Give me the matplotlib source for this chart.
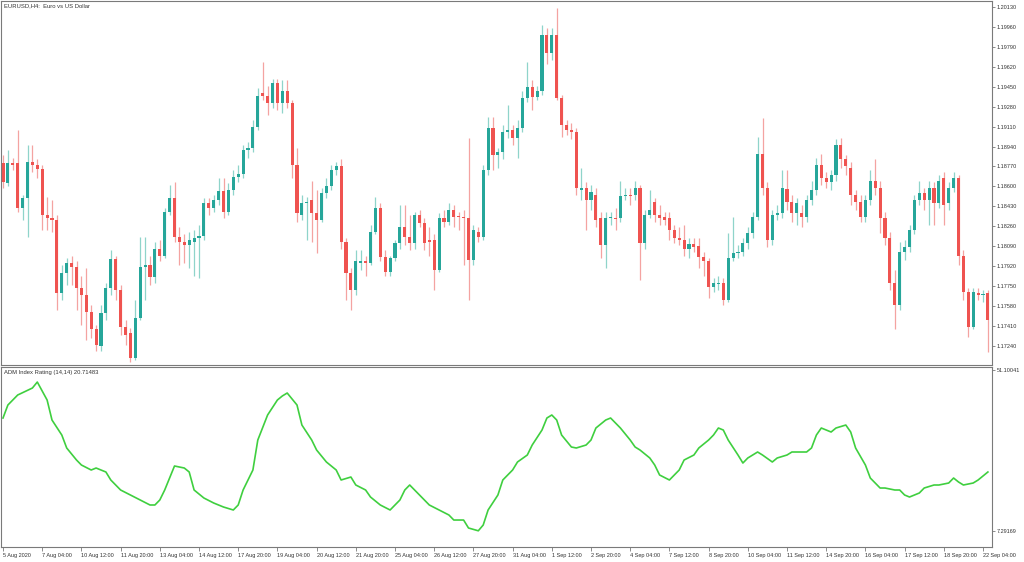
import matplotlib
matplotlib.use("Agg")
import matplotlib.pyplot as plt

# ---------------- data ----------------
opens = [
    1.1880, 1.1863, 1.1880, 1.1880, 1.1842, 1.1850, 1.1881, 1.1878, 1.1875, 1.1836,
    1.1833, 1.1831, 1.1769, 1.1786, 1.1795, 1.1791, 1.1773, 1.1767, 1.1753, 1.1738,
    1.1724, 1.1752, 1.1773, 1.1798, 1.1772, 1.1740, 1.1735, 1.1714, 1.1748, 1.1791,
    1.1793, 1.1783, 1.1807, 1.1801, 1.1838, 1.1850, 1.1817, 1.1813, 1.1810, 1.1813,
    1.1816, 1.1818, 1.1846, 1.1842, 1.1848, 1.1856, 1.1838, 1.1857, 1.1868, 1.1871,
    1.1891, 1.1893, 1.1911, 1.1940, 1.1937, 1.1931, 1.1948, 1.1931, 1.1941, 1.1931,
    1.1878, 1.1836, 1.1846, 1.1848, 1.1837, 1.1831, 1.1854, 1.1860, 1.1874, 1.1877,
    1.1813, 1.1786, 1.1772, 1.1795, 1.1796, 1.1795, 1.1821, 1.1842, 1.1800, 1.1787,
    1.1799, 1.1812, 1.1825, 1.1817, 1.1812, 1.1836, 1.1829, 1.1814, 1.1814, 1.1789,
    1.1833, 1.1830, 1.1840, 1.1835, 1.1834, 1.1833, 1.1797, 1.1821, 1.1817, 1.1874,
    1.1910, 1.1887, 1.1889, 1.1906, 1.1908, 1.1901, 1.1910, 1.1935, 1.1945, 1.1936,
    1.1941, 1.1989, 1.1974, 1.1989, 1.1935, 1.1912, 1.1908, 1.1906, 1.1857, 1.1859,
    1.1848, 1.1853, 1.1833, 1.1810, 1.1833, 1.1833, 1.1833, 1.1852, 1.1853, 1.1853,
    1.1859, 1.1812, 1.1836, 1.1847, 1.1836, 1.1834, 1.1833, 1.1823, 1.1816, 1.1814,
    1.1807, 1.1811, 1.1809, 1.1800, 1.1796, 1.1774, 1.1777, 1.1778, 1.1763, 1.1799,
    1.1803, 1.1804, 1.1812, 1.1820, 1.1834, 1.1888, 1.1859, 1.1814, 1.1836, 1.1837,
    1.1858, 1.1847, 1.1837, 1.1837, 1.1834, 1.1848, 1.1857, 1.1878, 1.1867, 1.1864,
    1.1870, 1.1895, 1.1883, 1.1876, 1.1853, 1.1847, 1.1834, 1.1848, 1.1865, 1.1859,
    1.1833, 1.1816, 1.1778, 1.1759, 1.1804, 1.1808, 1.1823, 1.1848, 1.1854, 1.1848,
    1.1859, 1.1846, 1.1867, 1.1846, 1.1859, 1.1867, 1.1801, 1.1770, 1.1740, 1.1769,
    1.1767, 1.1769,
]
closes = [
    1.1864, 1.1880, 1.1878, 1.1842, 1.1850, 1.1881, 1.1878, 1.1875, 1.1836, 1.1833,
    1.1831, 1.1769, 1.1786, 1.1795, 1.1791, 1.1773, 1.1767, 1.1753, 1.1738, 1.1725,
    1.1752, 1.1773, 1.1798, 1.1772, 1.1740, 1.1733, 1.1714, 1.1748, 1.1791, 1.1793,
    1.1783, 1.1807, 1.1801, 1.1838, 1.1850, 1.1817, 1.1813, 1.1810, 1.1814, 1.1816,
    1.1818, 1.1846, 1.1842, 1.1848, 1.1856, 1.1838, 1.1857, 1.1868, 1.1871, 1.1891,
    1.1893, 1.1911, 1.1937, 1.1937, 1.1931, 1.1948, 1.1931, 1.1941, 1.1931, 1.1878,
    1.1837, 1.1846, 1.1847, 1.1837, 1.1831, 1.1854, 1.1860, 1.1874, 1.1877, 1.1813,
    1.1786, 1.1772, 1.1796, 1.1796, 1.1795, 1.1821, 1.1842, 1.1800, 1.1787, 1.1799,
    1.1812, 1.1825, 1.1817, 1.1812, 1.1836, 1.1829, 1.1812, 1.1813, 1.1789, 1.1833,
    1.1830, 1.1840, 1.1834, 1.1834, 1.1833, 1.1797, 1.1823, 1.1817, 1.1874, 1.1910,
    1.1887, 1.1889, 1.1906, 1.1908, 1.1901, 1.1910, 1.1935, 1.1945, 1.1936, 1.1941,
    1.1989, 1.1974, 1.1989, 1.1935, 1.1912, 1.1908, 1.1906, 1.1859, 1.1859, 1.1848,
    1.1855, 1.1831, 1.1810, 1.1833, 1.1834, 1.1832, 1.1852, 1.1853, 1.1852, 1.1859,
    1.1812, 1.1836, 1.1840, 1.1836, 1.1833, 1.1831, 1.1823, 1.1816, 1.1814, 1.1807,
    1.1811, 1.1808, 1.1800, 1.1796, 1.1774, 1.1778, 1.1778, 1.1763, 1.1799, 1.1803,
    1.1804, 1.1812, 1.1820, 1.1834, 1.1888, 1.1859, 1.1814, 1.1836, 1.1837, 1.1859,
    1.1847, 1.1837, 1.1846, 1.1834, 1.1848, 1.1857, 1.1878, 1.1867, 1.1864, 1.1870,
    1.1895, 1.1883, 1.1877, 1.1853, 1.1847, 1.1834, 1.1848, 1.1865, 1.1859, 1.1833,
    1.1816, 1.1778, 1.1759, 1.1804, 1.1808, 1.1823, 1.1848, 1.1854, 1.1848, 1.1859,
    1.1846, 1.1865, 1.1844, 1.1859, 1.1867, 1.1801, 1.1770, 1.1740, 1.1770, 1.1767,
    1.1768, 1.1746,
]
highs = [
    1.1887, 1.1891, 1.1884, 1.1908, 1.1853, 1.1895, 1.1895, 1.1883, 1.1878, 1.1851,
    1.1848, 1.1836, 1.1793, 1.1799, 1.1801, 1.1796, 1.1784, 1.1790, 1.1759, 1.1742,
    1.1759, 1.1778, 1.1806, 1.1801, 1.1776, 1.1746, 1.1739, 1.1763, 1.1817, 1.1817,
    1.1801, 1.1813, 1.1814, 1.1842, 1.1861, 1.1864, 1.1825, 1.1819, 1.1821, 1.1823,
    1.1827, 1.1850, 1.1850, 1.1853, 1.1867, 1.1867, 1.1863, 1.1874, 1.1878, 1.1895,
    1.1898, 1.1917, 1.1944, 1.1966, 1.1946, 1.1952, 1.1952, 1.1951, 1.1951, 1.1934,
    1.1893, 1.1853, 1.1851, 1.1865, 1.1857, 1.1859, 1.1867, 1.1878, 1.1881, 1.1883,
    1.1816, 1.1790, 1.1806, 1.1806, 1.1801, 1.1827, 1.1851, 1.1846, 1.1806, 1.1801,
    1.1814, 1.1844, 1.1844, 1.1836, 1.1838, 1.1840, 1.1833, 1.1825, 1.1819, 1.1837,
    1.1840, 1.1846, 1.1844, 1.1838, 1.1840, 1.1901, 1.1827, 1.1825, 1.1878, 1.1919,
    1.1919, 1.1893, 1.1912, 1.1929, 1.1912, 1.1917, 1.1941, 1.1966, 1.1951, 1.1946,
    1.1998, 1.1995, 1.1995, 1.2012, 1.1938, 1.1917, 1.1914, 1.1910, 1.1876, 1.1864,
    1.1861, 1.1859, 1.1838, 1.1838, 1.1838, 1.1842, 1.1865, 1.1859, 1.1859, 1.1865,
    1.1861, 1.1840, 1.1857, 1.1850, 1.1844, 1.1838, 1.1838, 1.1827, 1.1825, 1.1827,
    1.1816, 1.1816, 1.1816, 1.1804, 1.1799, 1.1782, 1.1784, 1.1782, 1.1820, 1.1834,
    1.1810, 1.1816, 1.1825, 1.1838, 1.1902, 1.1918, 1.1864, 1.1840, 1.1844, 1.1874,
    1.1874, 1.1853, 1.1850, 1.1844, 1.1853, 1.1865, 1.1884, 1.1888, 1.1872, 1.1874,
    1.1900, 1.1901, 1.1887, 1.1881, 1.1857, 1.1853, 1.1853, 1.1874, 1.1883, 1.1865,
    1.1838, 1.1821, 1.1789, 1.1813, 1.1814, 1.1827, 1.1853, 1.1865, 1.1859, 1.1865,
    1.1864, 1.1870, 1.1872, 1.1864, 1.1872, 1.1870, 1.1806, 1.1773, 1.1773, 1.1773,
    1.1772, 1.1772,
]
lows = [
    1.1859, 1.1860, 1.1874, 1.1838, 1.1831, 1.1817, 1.1872, 1.1867, 1.1823, 1.1823,
    1.1821, 1.1755, 1.1763, 1.1776, 1.1776, 1.1755, 1.1742, 1.1729, 1.1731, 1.1720,
    1.1720, 1.1746, 1.1767, 1.1763, 1.1733, 1.1725, 1.1710, 1.1712, 1.1746, 1.1763,
    1.1776, 1.1778, 1.1796, 1.1799, 1.1836, 1.1813, 1.1793, 1.1795, 1.1790, 1.1784,
    1.1782, 1.1814, 1.1836, 1.1838, 1.1844, 1.1833, 1.1836, 1.1853, 1.1864, 1.1867,
    1.1884, 1.1889, 1.1908, 1.1934, 1.1921, 1.1927, 1.1925, 1.1923, 1.1927, 1.1867,
    1.1830, 1.1831, 1.1814, 1.1813, 1.1803, 1.1830, 1.1850, 1.1857, 1.1870, 1.1807,
    1.1763, 1.1755, 1.1767, 1.1789, 1.1784, 1.1793, 1.1819, 1.1796, 1.1784, 1.1784,
    1.1796, 1.1807, 1.1810, 1.1806, 1.1807, 1.1825, 1.1806, 1.1801, 1.1772, 1.1787,
    1.1825, 1.1827, 1.1825, 1.1823, 1.1793, 1.1763, 1.1793, 1.1813, 1.1814, 1.1870,
    1.1874, 1.1876, 1.1883, 1.1901, 1.1895, 1.1884, 1.1906, 1.1932, 1.1925, 1.1934,
    1.1938, 1.1964, 1.1968, 1.1934, 1.1902, 1.1904, 1.1900, 1.1853, 1.1848, 1.1823,
    1.1840, 1.1825, 1.1799, 1.1790, 1.1827, 1.1823, 1.1830, 1.1848, 1.1844, 1.1848,
    1.1780, 1.1807, 1.1833, 1.1830, 1.1827, 1.1827, 1.1814, 1.1812, 1.1810, 1.1801,
    1.1799, 1.1804, 1.1790, 1.1784, 1.1765, 1.1770, 1.1772, 1.1759, 1.1761, 1.1796,
    1.1799, 1.1801, 1.1807, 1.1816, 1.1831, 1.1853, 1.1808, 1.1810, 1.1831, 1.1833,
    1.1840, 1.1830, 1.1827, 1.1825, 1.1830, 1.1844, 1.1853, 1.1861, 1.1859, 1.1857,
    1.1865, 1.1876, 1.1870, 1.1844, 1.1840, 1.1830, 1.1830, 1.1844, 1.1853, 1.1820,
    1.1810, 1.1772, 1.1738, 1.1755, 1.1797, 1.1804, 1.1819, 1.1844, 1.1840, 1.1827,
    1.1827, 1.1842, 1.1827, 1.1840, 1.1855, 1.1793, 1.1763, 1.1732, 1.1738, 1.1763,
    1.1761, 1.1719,
]

price_ticks = [1.20130, 1.19960, 1.19790, 1.19620, 1.19450, 1.19280, 1.19110,
               1.18940, 1.18770, 1.18600, 1.18430, 1.18260, 1.18090, 1.17920,
               1.17750, 1.17580, 1.17410, 1.17240]

time_labels = ["5 Aug 2020", "7 Aug 04:00", "10 Aug 12:00", "11 Aug 20:00",
               "13 Aug 04:00", "14 Aug 12:00", "17 Aug 20:00", "19 Aug 04:00",
               "20 Aug 12:00", "21 Aug 20:00", "25 Aug 04:00", "26 Aug 12:00",
               "27 Aug 20:00", "31 Aug 04:00", "1 Sep 12:00", "2 Sep 20:00",
               "4 Sep 04:00", "7 Sep 12:00", "8 Sep 20:00", "10 Sep 04:00",
               "11 Sep 12:00", "14 Sep 20:00", "16 Sep 04:00", "17 Sep 12:00",
               "18 Sep 20:00", "22 Sep 04:00"]
time_label_bars = [0, 8, 16, 24, 32, 40, 48, 56, 64, 72, 80, 88, 96, 104, 112,
                   120, 128, 136, 144, 152, 160, 168, 176, 184, 192, 200]

adm_bars = [0, 1, 3, 6, 7, 9, 10, 12, 13, 15, 16, 18, 19, 21, 22, 24, 26, 28, 30,
            31, 32, 33, 34, 35, 37, 38, 39, 41, 43, 45, 47, 48, 49, 51, 52, 54,
            56, 57, 58, 60, 61, 63, 64, 66, 68, 69, 71, 72, 74, 75, 77, 79, 81,
            82, 83, 85, 87, 89, 91, 92, 94, 95, 97, 98, 99, 101, 102, 104, 105,
            107, 108, 110, 111, 112, 113, 114, 116, 117, 119, 120, 121, 123, 124,
            126, 128, 129, 130, 132, 133, 134, 136, 138, 139, 141, 142, 144, 145,
            146, 147, 148, 150, 151, 152, 154, 155, 157, 158, 160, 161, 162, 164,
            165, 166, 167, 169, 170, 172, 173, 174, 176, 177, 179, 180, 182, 183,
            184, 185, 187, 188, 190, 191, 193, 194, 195, 196, 198, 199, 201]
adm_values = [38.04, 41.58, 44.30, 46.20, 47.83, 42.94, 37.49, 33.41, 29.88, 26.61,
              25.25, 23.89, 24.43, 23.35, 21.17, 18.45, 17.09, 15.73, 14.37, 14.37,
              15.73, 18.45, 21.71, 24.98, 24.43, 23.35, 18.45, 16.27, 14.91, 13.82,
              13.01, 14.37, 18.45, 23.89, 32.05, 38.86, 42.94, 44.03, 44.84, 41.58,
              36.13, 32.05, 29.33, 26.07, 23.89, 21.17, 21.98, 19.81, 18.45, 16.54,
              14.37, 13.01, 15.73, 18.45, 19.81, 17.09, 14.37, 13.01, 11.65, 10.28,
              10.28, 8.11, 7.35, 8.92, 13.01, 17.09, 21.17, 23.89, 26.07, 27.97,
              30.69, 34.77, 38.04, 38.86, 37.49, 33.41, 30.15, 29.88, 30.69, 32.05,
              35.32, 37.49, 38.04, 35.32, 32.05, 30.15, 29.33, 27.16, 25.25, 22.53,
              21.17, 23.89, 26.61, 27.97, 29.88, 32.05, 33.41, 35.32, 34.77, 32.05,
              27.97, 25.79, 27.16, 28.79, 27.97, 26.07, 27.16, 27.97, 28.79, 28.79,
              28.79, 29.88, 33.41, 35.32, 34.23, 35.32, 36.13, 34.23, 29.88, 25.25,
              21.71, 18.99, 18.99, 18.45, 18.45, 17.09, 16.54, 17.63, 18.99, 19.81,
              19.81, 20.35, 21.71, 20.63, 19.81, 20.35, 21.17, 23.35]
adm_ticks = [51.10041, 7.29169]

# ---------------- figure ----------------
plt.rcParams["font.family"] = ["Liberation Sans", "DejaVu Sans"]
W, H = 1024, 562
fig = plt.figure(figsize=(W / 100, H / 100), dpi=100)
fig.patch.set_facecolor("white")

left, right = 1 / W, 992 / W
ax1 = fig.add_axes([left, 1 - 365 / H, right - left, 364 / H])
ax2 = fig.add_axes([left, 1 - 547 / H, right - left, 180 / H], sharex=ax1)

UP = "#26a69a"
DN = "#ef5350"
UP_W = "#8fd4ca"
DN_W = "#f4a3a1"
SPINE = "#7a7a7a"
TXT = "#333333"

xs = list(range(len(closes)))
for i in xs:
    o, c, h, l = opens[i], closes[i], highs[i], lows[i]
    up = c >= o
    ax1.vlines(i, l, h, color=UP_W if up else DN_W, lw=0.9, zorder=1)
    lo, hi = min(o, c), max(o, c)
    ax1.bar(i, max(hi - lo, 0.00003), bottom=lo, width=0.62,
            color=UP if up else DN, linewidth=0, zorder=2)

ax1.set_xlim(-2 / 4.9, 989 / 4.9)
ax1.set_ylim(1.17077, 1.20181)

ax2.plot(adm_bars, adm_values, color="#3fcf3f", lw=1.2)
ax2.set_ylim(2.94, 51.92)

for ax in (ax1, ax2):
    ax.set_facecolor("white")
    for s in ax.spines.values():
        s.set_color(SPINE)
        s.set_linewidth(0.8)
    ax.yaxis.tick_right()
    ax.tick_params(axis="y", direction="out", length=2, width=0.6,
                   colors=SPINE, labelcolor=TXT, labelsize=4, pad=1.5)

ax1.set_yticks(price_ticks)
ax1.set_yticklabels([f"{v:.5f}" for v in price_ticks])
ax1.tick_params(axis="x", bottom=False, labelbottom=False)

ax2.set_yticks(adm_ticks)
ax2.set_yticklabels([f"{v:.5f}" for v in adm_ticks])
ax2.set_xticks(time_label_bars)
ax2.set_xticklabels(time_labels)
ax2.tick_params(axis="x", direction="out", length=3, width=0.6,
                colors=SPINE, labelcolor=TXT, labelsize=4, pad=1)
for t in ax2.get_xticklabels():
    t.set_ha("left")

ax1.text(0.003, 0.994, "EURUSD,H4:  Euro vs US Dollar", transform=ax1.transAxes,
         ha="left", va="top", fontsize=4.2, color=TXT)
ax2.text(0.003, 0.985, "ADM Index Rating (14,14) 20.71483", transform=ax2.transAxes,
         ha="left", va="top", fontsize=4.2, color=TXT)

fig.savefig("out.png", dpi=100, facecolor="white")
